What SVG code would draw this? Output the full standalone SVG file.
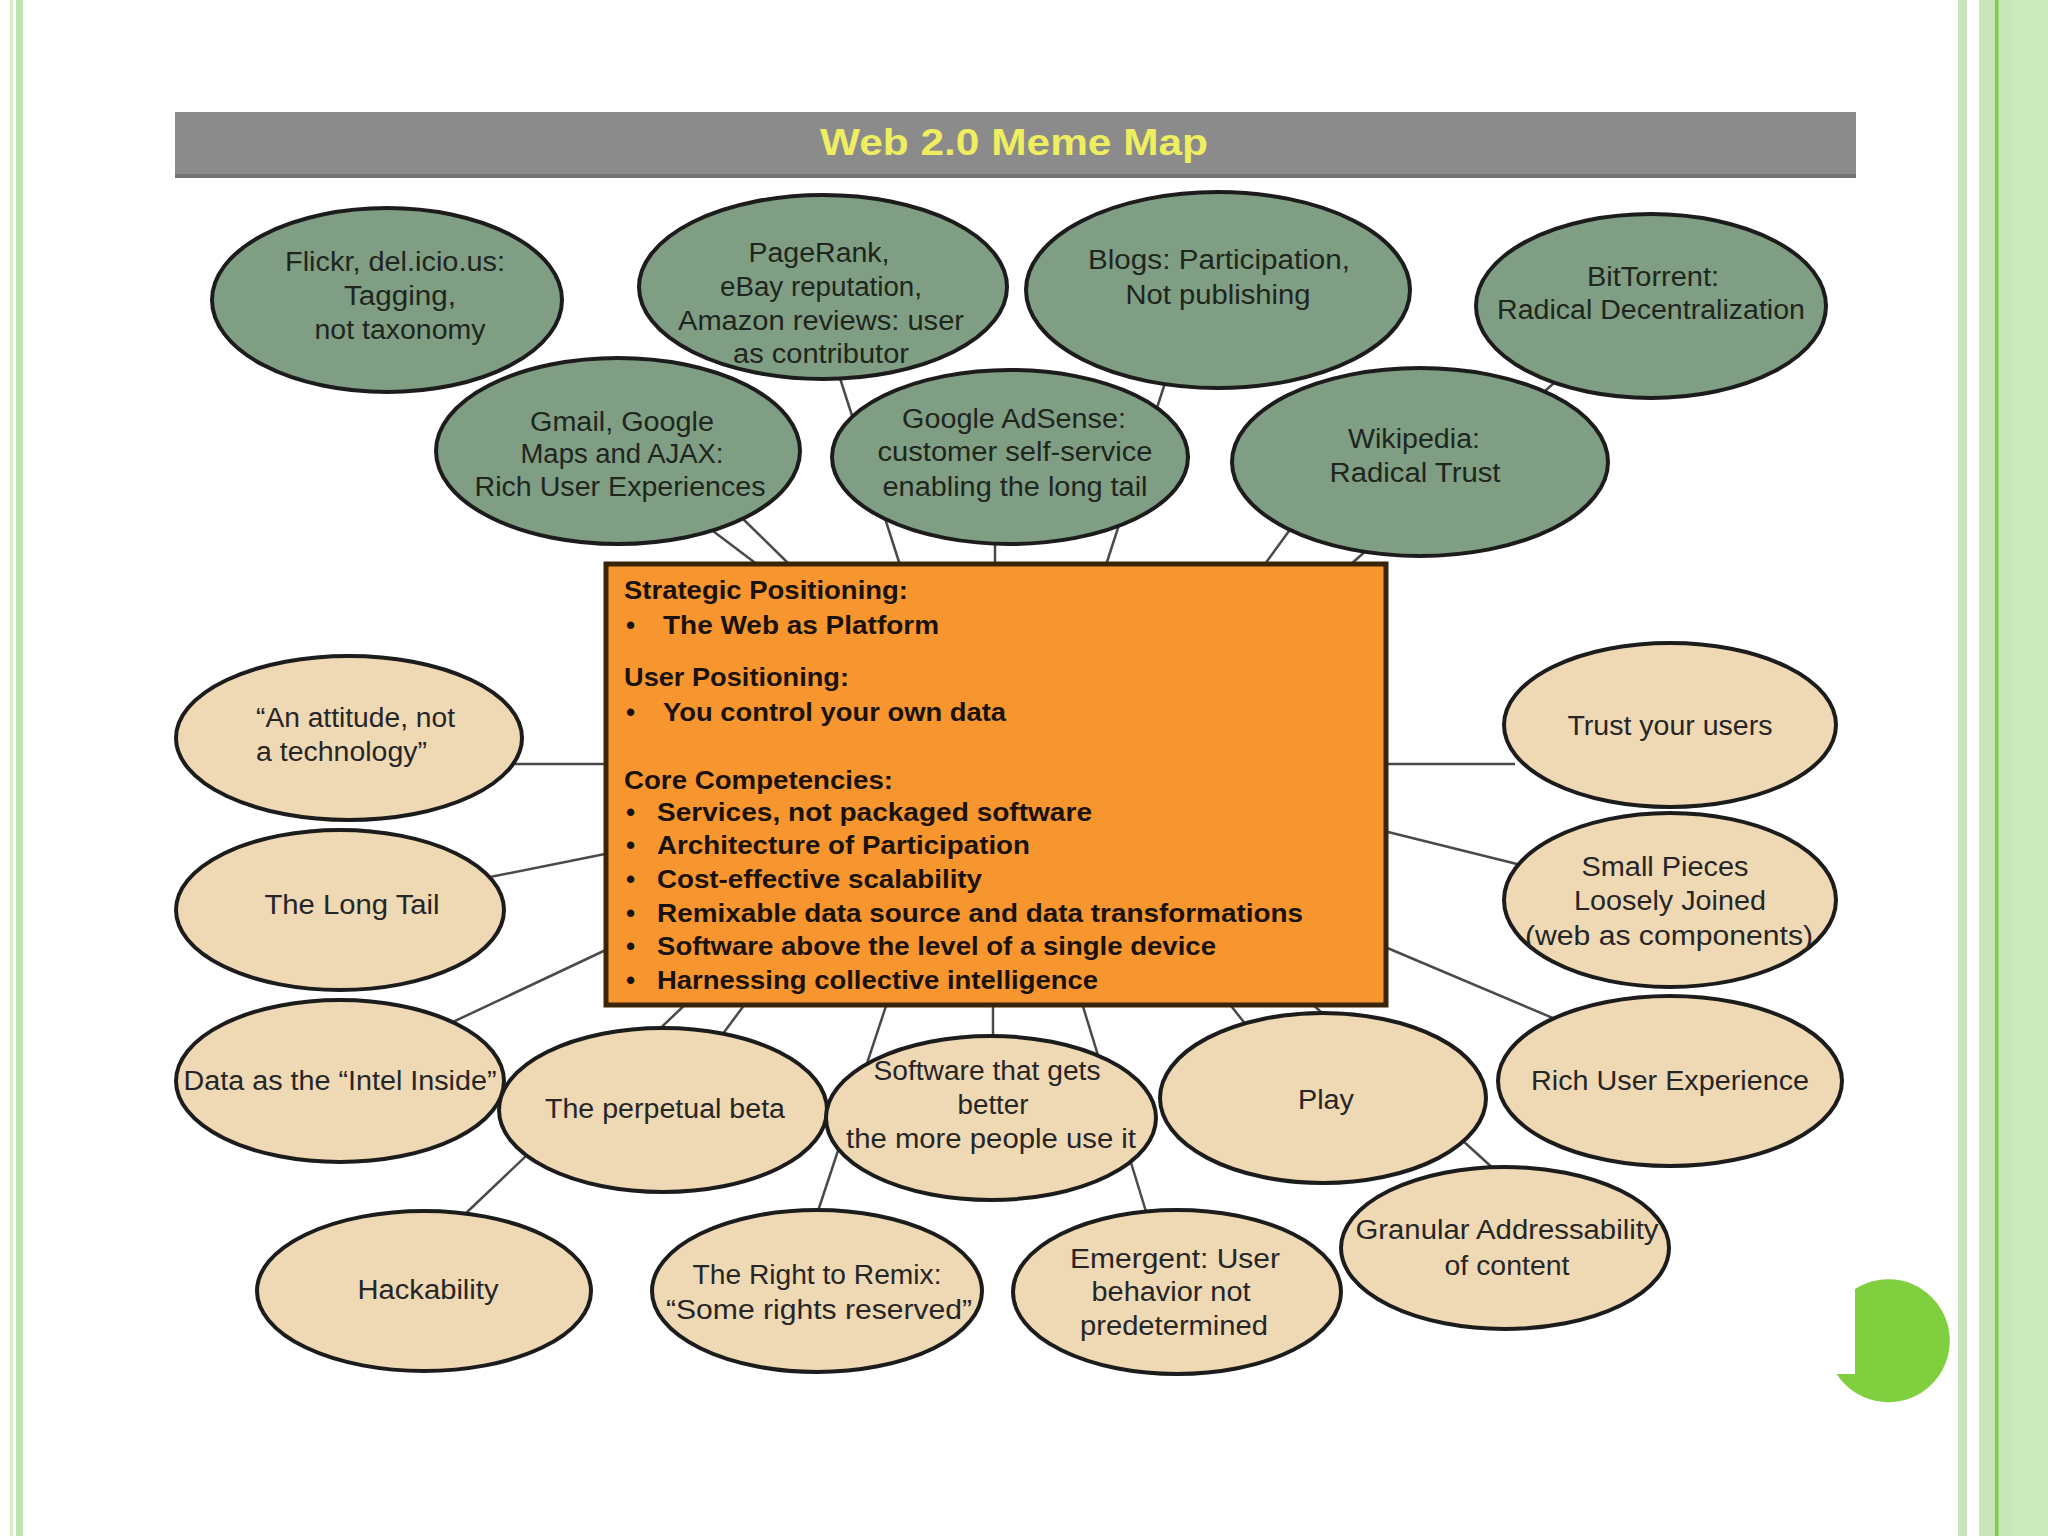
<svg xmlns="http://www.w3.org/2000/svg" width="2048" height="1536" viewBox="0 0 2048 1536">
<style>
.g{fill:#809e83;stroke:#1c1c1c;stroke-width:4}
.t{fill:#efd8b4;stroke:#1c1c1c;stroke-width:4}
.lt{font-family:"Liberation Sans",Arial,sans-serif;font-size:27px;fill:#262626;text-anchor:middle}
.lg{font-family:"Liberation Sans",Arial,sans-serif;font-size:27px;fill:#1e261e;text-anchor:middle}
.bx{font-family:"Liberation Sans",Arial,sans-serif;font-size:26px;font-weight:bold;fill:#1a1208}
.cn line{stroke:#4a4a4a;stroke-width:2.5}
</style>
<rect width="2048" height="1536" fill="#ffffff"/>
<g id="frame">
<rect x="10" y="0" width="3" height="1536" fill="#d4ecc8"/>
<rect x="16" y="0" width="7" height="1536" fill="#c0e4ae"/>
<rect x="1958" y="0" width="9" height="1536" fill="#c8e4b8"/>
<rect x="1979" y="0" width="69" height="1536" fill="#c8e6b8"/>
<rect x="1995" y="0" width="3.5" height="1536" fill="#80cc4e"/>
<rect x="2012" y="0" width="36" height="1536" fill="#cde9be"/>
</g>
<g id="title">
<rect x="175" y="112" width="1681" height="66" fill="#8b8b8b"/>
<rect x="175" y="174" width="1681" height="4" fill="#747474"/>
<text x="1014" y="155" font-family="Liberation Sans,Arial,sans-serif" font-size="37" font-weight="bold" fill="#eeee60" text-anchor="middle" textLength="388" lengthAdjust="spacingAndGlyphs">Web 2.0 Meme Map</text>
</g>
<g id="connectors" class="cn">
<line x1="705" y1="525" x2="758" y2="565"/>
<line x1="740" y1="516" x2="790" y2="565"/>
<line x1="838" y1="372" x2="900" y2="565"/>
<line x1="995" y1="530" x2="995" y2="565"/>
<line x1="1166" y1="380" x2="1106" y2="565"/>
<line x1="1297" y1="520" x2="1265" y2="564"/>
<line x1="1554" y1="383" x2="1350" y2="565"/>
<line x1="500" y1="764" x2="610" y2="764"/>
<line x1="480" y1="879" x2="610" y2="853"/>
<line x1="440" y1="1028" x2="610" y2="948"/>
<line x1="464" y1="1215" x2="690" y2="1000"/>
<line x1="722" y1="1035" x2="748" y2="1000"/>
<line x1="815" y1="1220" x2="888" y2="1000"/>
<line x1="993" y1="1000" x2="993" y2="1045"/>
<line x1="1148" y1="1218" x2="1081" y2="1000"/>
<line x1="1228" y1="1002" x2="1250" y2="1030"/>
<line x1="1310" y1="1002" x2="1495" y2="1170"/>
<line x1="1385" y1="947" x2="1560" y2="1021"/>
<line x1="1380" y1="830" x2="1525" y2="866"/>
<line x1="1380" y1="764" x2="1515" y2="764"/>
</g>
<g id="core">
<rect x="606" y="564" width="780" height="441" fill="#f7952f" stroke="#3a2408" stroke-width="5"/>
<text class="bx" x="624" y="599" textLength="284" lengthAdjust="spacingAndGlyphs">Strategic Positioning:</text>
<text class="bx" x="626" y="634">•</text>
<text class="bx" x="663" y="634" textLength="276" lengthAdjust="spacingAndGlyphs">The Web as Platform</text>
<text class="bx" x="624" y="686" textLength="225" lengthAdjust="spacingAndGlyphs">User Positioning:</text>
<text class="bx" x="626" y="721">•</text>
<text class="bx" x="663" y="721" textLength="343" lengthAdjust="spacingAndGlyphs">You control your own data</text>
<text class="bx" x="624" y="789" textLength="269" lengthAdjust="spacingAndGlyphs">Core Competencies:</text>
<text class="bx" x="626" y="821">•</text>
<text class="bx" x="657" y="821" textLength="435" lengthAdjust="spacingAndGlyphs">Services, not packaged software</text>
<text class="bx" x="626" y="854">•</text>
<text class="bx" x="657" y="854" textLength="373" lengthAdjust="spacingAndGlyphs">Architecture of Participation</text>
<text class="bx" x="626" y="888">•</text>
<text class="bx" x="657" y="888" textLength="325" lengthAdjust="spacingAndGlyphs">Cost-effective scalability</text>
<text class="bx" x="626" y="922">•</text>
<text class="bx" x="657" y="922" textLength="646" lengthAdjust="spacingAndGlyphs">Remixable data source and data transformations</text>
<text class="bx" x="626" y="955">•</text>
<text class="bx" x="657" y="955" textLength="559" lengthAdjust="spacingAndGlyphs">Software above the level of a single device</text>
<text class="bx" x="626" y="989">•</text>
<text class="bx" x="657" y="989" textLength="441" lengthAdjust="spacingAndGlyphs">Harnessing collective intelligence</text>
</g>
<g id="flickr">
<ellipse class="g" cx="387" cy="300" rx="175" ry="92"/>
<text class="lg" x="395" y="271" textLength="220" lengthAdjust="spacingAndGlyphs">Flickr, del.icio.us:</text>
<text class="lg" x="400" y="305" textLength="112" lengthAdjust="spacingAndGlyphs">Tagging,</text>
<text class="lg" x="400" y="339" textLength="171" lengthAdjust="spacingAndGlyphs">not taxonomy</text>
</g>
<g id="pagerank">
<ellipse class="g" cx="823" cy="287" rx="184" ry="92"/>
<text class="lg" x="819" y="262" textLength="141" lengthAdjust="spacingAndGlyphs">PageRank,</text>
<text class="lg" x="821" y="296" textLength="202" lengthAdjust="spacingAndGlyphs">eBay reputation,</text>
<text class="lg" x="821" y="330" textLength="286" lengthAdjust="spacingAndGlyphs">Amazon reviews:  user</text>
<text class="lg" x="821" y="363" textLength="176" lengthAdjust="spacingAndGlyphs">as contributor</text>
</g>
<g id="blogs">
<ellipse class="g" cx="1218" cy="290" rx="192" ry="98"/>
<text class="lg" x="1219" y="269" textLength="262" lengthAdjust="spacingAndGlyphs">Blogs:  Participation,</text>
<text class="lg" x="1218" y="304" textLength="185" lengthAdjust="spacingAndGlyphs">Not publishing</text>
</g>
<g id="bittorrent">
<ellipse class="g" cx="1651" cy="306" rx="175" ry="92"/>
<text class="lg" x="1653" y="286" textLength="132" lengthAdjust="spacingAndGlyphs">BitTorrent:</text>
<text class="lg" x="1651" y="319" textLength="308" lengthAdjust="spacingAndGlyphs">Radical Decentralization</text>
</g>
<g id="gmail">
<ellipse class="g" cx="618" cy="451" rx="182" ry="93"/>
<text class="lg" x="622" y="431" textLength="184" lengthAdjust="spacingAndGlyphs">Gmail, Google</text>
<text class="lg" x="622" y="463" textLength="203" lengthAdjust="spacingAndGlyphs">Maps and AJAX:</text>
<text class="lg" x="620" y="496" textLength="291" lengthAdjust="spacingAndGlyphs">Rich User Experiences</text>
</g>
<g id="adsense">
<ellipse class="g" cx="1010" cy="457" rx="178" ry="87"/>
<text class="lg" x="1014" y="428" textLength="224" lengthAdjust="spacingAndGlyphs">Google AdSense:</text>
<text class="lg" x="1015" y="461" textLength="275" lengthAdjust="spacingAndGlyphs">customer self-service</text>
<text class="lg" x="1015" y="496" textLength="265" lengthAdjust="spacingAndGlyphs">enabling the long tail</text>
</g>
<g id="wikipedia">
<ellipse class="g" cx="1420" cy="462" rx="188" ry="94"/>
<text class="lg" x="1414" y="448" textLength="132" lengthAdjust="spacingAndGlyphs">Wikipedia:</text>
<text class="lg" x="1415" y="482" textLength="171" lengthAdjust="spacingAndGlyphs">Radical Trust</text>
</g>
<g id="attitude">
<ellipse class="t" cx="349" cy="738" rx="173" ry="82"/>
<text class="lt" x="256" y="727" text-anchor="start" style="text-anchor:start" textLength="199" lengthAdjust="spacingAndGlyphs">“An attitude, not</text>
<text class="lt" x="256" y="761" style="text-anchor:start" textLength="171" lengthAdjust="spacingAndGlyphs">a technology”</text>
</g>
<g id="longtail">
<ellipse class="t" cx="340" cy="910" rx="164" ry="80"/>
<text class="lt" x="352" y="914" textLength="175" lengthAdjust="spacingAndGlyphs">The Long Tail</text>
</g>
<g id="data">
<ellipse class="t" cx="340" cy="1081" rx="164" ry="81"/>
<text class="lt" x="340" y="1090" textLength="313" lengthAdjust="spacingAndGlyphs">Data as the “Intel Inside”</text>
</g>
<g id="perpetual">
<ellipse class="t" cx="663" cy="1110" rx="164" ry="82"/>
<text class="lt" x="665" y="1118" textLength="240" lengthAdjust="spacingAndGlyphs">The perpetual beta</text>
</g>
<g id="hackability">
<ellipse class="t" cx="424" cy="1291" rx="167" ry="80"/>
<text class="lt" x="428" y="1299" textLength="141" lengthAdjust="spacingAndGlyphs">Hackability</text>
</g>
<g id="remix">
<ellipse class="t" cx="817" cy="1291" rx="165" ry="81"/>
<text class="lt" x="817" y="1284" textLength="249" lengthAdjust="spacingAndGlyphs">The Right to Remix:</text>
<text class="lt" x="819" y="1319" textLength="306" lengthAdjust="spacingAndGlyphs">“Some rights reserved”</text>
</g>
<g id="software">
<ellipse class="t" cx="991" cy="1118" rx="165" ry="82"/>
<text class="lt" x="987" y="1080" textLength="227" lengthAdjust="spacingAndGlyphs">Software that gets</text>
<text class="lt" x="993" y="1114" textLength="71" lengthAdjust="spacingAndGlyphs">better</text>
<text class="lt" x="991" y="1148" textLength="290" lengthAdjust="spacingAndGlyphs">the more people use it</text>
</g>
<g id="emergent">
<ellipse class="t" cx="1177" cy="1292" rx="164" ry="82"/>
<text class="lt" x="1175" y="1268" textLength="210" lengthAdjust="spacingAndGlyphs">Emergent:  User</text>
<text class="lt" x="1171" y="1301" textLength="159" lengthAdjust="spacingAndGlyphs">behavior not</text>
<text class="lt" x="1174" y="1335" textLength="188" lengthAdjust="spacingAndGlyphs">predetermined</text>
</g>
<g id="play">
<ellipse class="t" cx="1323" cy="1098" rx="163" ry="85"/>
<text class="lt" x="1326" y="1109" textLength="56" lengthAdjust="spacingAndGlyphs">Play</text>
</g>
<g id="granular">
<ellipse class="t" cx="1505" cy="1248" rx="164" ry="81"/>
<text class="lt" x="1507" y="1239" textLength="303" lengthAdjust="spacingAndGlyphs">Granular Addressability</text>
<text class="lt" x="1507" y="1275" textLength="125" lengthAdjust="spacingAndGlyphs">of content</text>
</g>
<g id="richux">
<ellipse class="t" cx="1670" cy="1081" rx="172" ry="85"/>
<text class="lt" x="1670" y="1090" textLength="278" lengthAdjust="spacingAndGlyphs">Rich User Experience</text>
</g>
<g id="trust">
<ellipse class="t" cx="1670" cy="725" rx="166" ry="82"/>
<text class="lt" x="1670" y="735" textLength="205" lengthAdjust="spacingAndGlyphs">Trust your users</text>
</g>
<g id="smallpieces">
<ellipse class="t" cx="1670" cy="900" rx="166" ry="87"/>
<text class="lt" x="1665" y="876" textLength="167" lengthAdjust="spacingAndGlyphs">Small Pieces</text>
<text class="lt" x="1670" y="910" textLength="192" lengthAdjust="spacingAndGlyphs">Loosely Joined</text>
<text class="lt" x="1669" y="945" textLength="288" lengthAdjust="spacingAndGlyphs">(web as components)</text>
</g>
<path id="bubble" d="M1855,1289 A61.5,61.5 0 1 1 1836.6,1374 L1855,1374 Z" fill="#80cf3e"/>
</svg>
